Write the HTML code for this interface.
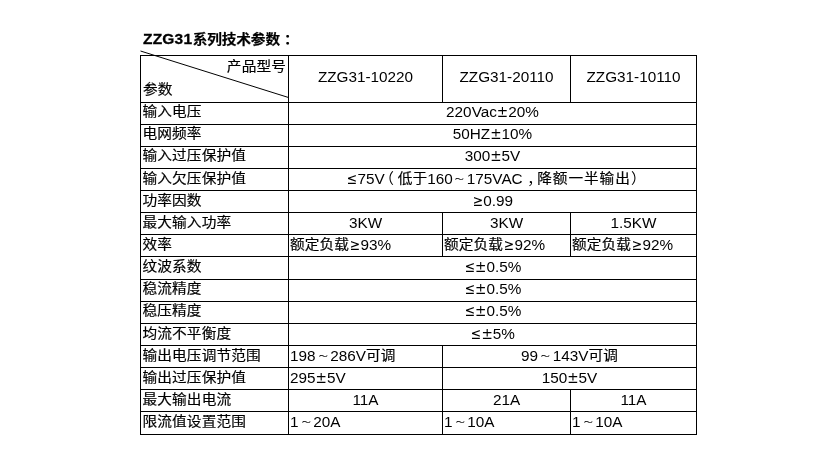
<!DOCTYPE html>
<html lang="zh-CN">
<head>
<meta charset="utf-8">
<title>ZZG31系列技术参数</title>
<style>
html,body{margin:0;padding:0;background:#fff;}
body{width:817px;height:458px;position:relative;overflow:hidden;
 font-family:"Liberation Sans","Noto Sans CJK SC",sans-serif;font-size:14.67px;color:#000;letter-spacing:0.13px;}
.l{position:absolute;background:#000;}
.t{position:absolute;white-space:nowrap;line-height:22px;height:22px;}
.c{text-align:center;}
.r{text-align:right;}
.a{font-size:15.3px;line-height:0;letter-spacing:0;}
.s{font-family:"DejaVu Sans","Liberation Sans",sans-serif;font-size:13.6px;line-height:0;letter-spacing:0;display:inline-block;transform:scaleY(1.15);transform-origin:50% 4.7px;}
.q{transform:scale(.92,1.15);}
.w{display:inline-block;letter-spacing:0;-webkit-text-stroke:.35px #000;transform:scale(.62,.52);transform-origin:50% 11.5px;}
.k{letter-spacing:.5px;}
.p{position:relative;}
.z{display:inline-block;-webkit-text-stroke:.2px #000;transform:scaleY(.9);transform-origin:50% 10.25px;}
h1{position:absolute;margin:0;font-size:14.67px;font-weight:bold;line-height:22px;white-space:nowrap;}
svg{position:absolute;left:0;top:0;}
</style>
</head>
<body>
<h1 style="left:143px;top:28px;letter-spacing:-.1px"><span style="font-size:15.5px;line-height:0;letter-spacing:.2px;margin-right:.4px;-webkit-text-stroke:.3px #000">ZZG31</span><span class="z" style="transform:scaleY(.92);transform-origin:50% 17px;">系列技术参数<span class="p" style="left:4px">：</span></span></h1>
<div class="l" style="left:140px;top:55px;width:557px;height:1px"></div>
<div class="l" style="left:140px;top:102px;width:557px;height:1px"></div>
<div class="l" style="left:140px;top:124px;width:557px;height:1px"></div>
<div class="l" style="left:140px;top:146px;width:557px;height:1px"></div>
<div class="l" style="left:140px;top:168px;width:557px;height:1px"></div>
<div class="l" style="left:140px;top:190px;width:557px;height:1px"></div>
<div class="l" style="left:140px;top:212px;width:557px;height:1px"></div>
<div class="l" style="left:140px;top:234px;width:557px;height:1px"></div>
<div class="l" style="left:140px;top:256px;width:557px;height:1px"></div>
<div class="l" style="left:140px;top:279px;width:557px;height:1px"></div>
<div class="l" style="left:140px;top:301px;width:557px;height:1px"></div>
<div class="l" style="left:140px;top:323px;width:557px;height:1px"></div>
<div class="l" style="left:140px;top:345px;width:557px;height:1px"></div>
<div class="l" style="left:140px;top:367px;width:557px;height:1px"></div>
<div class="l" style="left:140px;top:389px;width:557px;height:1px"></div>
<div class="l" style="left:140px;top:411px;width:557px;height:1px"></div>
<div class="l" style="left:140px;top:434px;width:557px;height:1px"></div>
<div class="l" style="left:140px;top:55px;width:1px;height:380px"></div>
<div class="l" style="left:288px;top:55px;width:1px;height:380px"></div>
<div class="l" style="left:696px;top:55px;width:1px;height:380px"></div>
<div class="l" style="left:442px;top:55px;width:1px;height:48px"></div>
<div class="l" style="left:570px;top:55px;width:1px;height:48px"></div>
<div class="l" style="left:442px;top:212px;width:1px;height:23px"></div>
<div class="l" style="left:570px;top:212px;width:1px;height:23px"></div>
<div class="l" style="left:442px;top:234px;width:1px;height:23px"></div>
<div class="l" style="left:570px;top:234px;width:1px;height:23px"></div>
<div class="l" style="left:442px;top:345px;width:1px;height:23px"></div>
<div class="l" style="left:442px;top:367px;width:1px;height:23px"></div>
<div class="l" style="left:442px;top:389px;width:1px;height:23px"></div>
<div class="l" style="left:570px;top:389px;width:1px;height:23px"></div>
<div class="l" style="left:442px;top:411px;width:1px;height:24px"></div>
<div class="l" style="left:570px;top:411px;width:1px;height:24px"></div>
<svg width="817" height="458" viewBox="0 0 817 458"><line x1="140.5" y1="51" x2="288.5" y2="97.5" stroke="#000" stroke-width="1"/></svg>
<div class="t r" style="left:141px;width:145px;top:56px;"><span class="z">产品型号</span></div>
<div class="t" style="left:143px;top:79px;"><span class="z">参数</span></div>
<div class="t c" style="left:289px;width:153px;top:66px;"><span class="a">ZZG31-10220</span></div>
<div class="t c" style="left:443px;width:127px;top:66px;"><span class="a">ZZG31-20110</span></div>
<div class="t c" style="left:571px;width:125px;top:66px;"><span class="a">ZZG31-10110</span></div>
<div class="t" style="left:142.5px;top:101px;"><span class="z">输入电压</span></div>
<div class="t c" style="left:289px;width:407px;top:101px;"><span class="a">220Vac</span><span class="s">±</span><span class="a">20%</span></div>
<div class="t" style="left:142.5px;top:123px;"><span class="z">电网频率</span></div>
<div class="t c" style="left:289px;width:407px;top:123px;"><span class="a">50HZ</span><span class="s">±</span><span class="a">10%</span></div>
<div class="t" style="left:142.5px;top:145px;"><span class="z">输入过压保护值</span></div>
<div class="t c" style="left:289px;width:407px;top:145px;"><span class="a">300</span><span class="s">±</span><span class="a">5V</span></div>
<div class="t" style="left:142.5px;top:168px;"><span class="z">输入欠压保护值</span></div>
<div class="t" style="left:346.1px;top:168px;"><span class="s q">≤</span><span class="a">75V</span><span class="p" style="left:-5.5px;margin-right:-1.8px">（</span><span class="z">低于</span><span class="a">160</span><span class="w" style="margin-left:-.7px;margin-right:0">～</span><span class="a">175VAC</span><span class="p" style="left:4.6px;margin-right:-.2px">，</span><span class="z" style="letter-spacing:.92px">降额一半输出</span><span class="p" style="left:.2px">）</span></div>
<div class="t" style="left:142.5px;top:190px;"><span class="z">功率因数</span></div>
<div class="t c" style="left:289px;width:407px;top:190px;"><span class="s q">≥</span><span class="a">0.99</span></div>
<div class="t" style="left:142.5px;top:212px;"><span class="z">最大输入功率</span></div>
<div class="t c" style="left:289px;width:153px;top:212px;"><span class="a">3KW</span></div>
<div class="t c" style="left:443px;width:127px;top:212px;"><span class="a">3KW</span></div>
<div class="t c" style="left:571px;width:125px;top:212px;"><span class="a">1.5KW</span></div>
<div class="t" style="left:142.5px;top:234px;"><span class="z">效率</span></div>
<div class="t" style="left:290px;top:234px;"><span class="z">额定负载</span><span class="s q">≥</span><span class="a">93%</span></div>
<div class="t" style="left:444px;top:234px;"><span class="z">额定负载</span><span class="s q">≥</span><span class="a">92%</span></div>
<div class="t" style="left:572px;top:234px;"><span class="z">额定负载</span><span class="s q">≥</span><span class="a">92%</span></div>
<div class="t" style="left:142.5px;top:256px;"><span class="z">纹波系数</span></div>
<div class="t c" style="left:289px;width:407px;top:256px;"><span class="s q">≤</span><span class="s">±</span><span class="a">0.5%</span></div>
<div class="t" style="left:142.5px;top:278px;"><span class="z">稳流精度</span></div>
<div class="t c" style="left:289px;width:407px;top:278px;"><span class="s q">≤</span><span class="s">±</span><span class="a">0.5%</span></div>
<div class="t" style="left:142.5px;top:300px;"><span class="z">稳压精度</span></div>
<div class="t c" style="left:289px;width:407px;top:300px;"><span class="s q">≤</span><span class="s">±</span><span class="a">0.5%</span></div>
<div class="t" style="left:142.5px;top:323px;"><span class="z">均流不平衡度</span></div>
<div class="t c" style="left:289px;width:407px;top:323px;"><span class="s q">≤</span><span class="s">±</span><span class="a">5%</span></div>
<div class="t" style="left:142.5px;top:345px;"><span class="z">输出电压调节范围</span></div>
<div class="t" style="left:290px;top:345px;"><span class="a">198</span><span class="w">～</span><span class="a">286V</span><span class="z">可调</span></div>
<div class="t c" style="left:443px;width:253px;top:345px;"><span class="a">99</span><span class="w">～</span><span class="a">143V</span><span class="z">可调</span></div>
<div class="t" style="left:142.5px;top:367px;"><span class="z">输出过压保护值</span></div>
<div class="t" style="left:290px;top:367px;"><span class="a">295</span><span class="s">±</span><span class="a">5V</span></div>
<div class="t c" style="left:443px;width:253px;top:367px;"><span class="a">150</span><span class="s">±</span><span class="a">5V</span></div>
<div class="t" style="left:142.5px;top:389px;"><span class="z">最大输出电流</span></div>
<div class="t c" style="left:289px;width:153px;top:389px;"><span class="a">11A</span></div>
<div class="t c" style="left:443px;width:127px;top:389px;"><span class="a">21A</span></div>
<div class="t c" style="left:571px;width:125px;top:389px;"><span class="a">11A</span></div>
<div class="t" style="left:142.5px;top:411px;"><span class="z">限流值设置范围</span></div>
<div class="t" style="left:290px;top:411px;"><span class="a">1</span><span class="w">～</span><span class="a">20A</span></div>
<div class="t" style="left:444px;top:411px;"><span class="a">1</span><span class="w">～</span><span class="a">10A</span></div>
<div class="t" style="left:572px;top:411px;"><span class="a">1</span><span class="w">～</span><span class="a">10A</span></div>
</body>
</html>
